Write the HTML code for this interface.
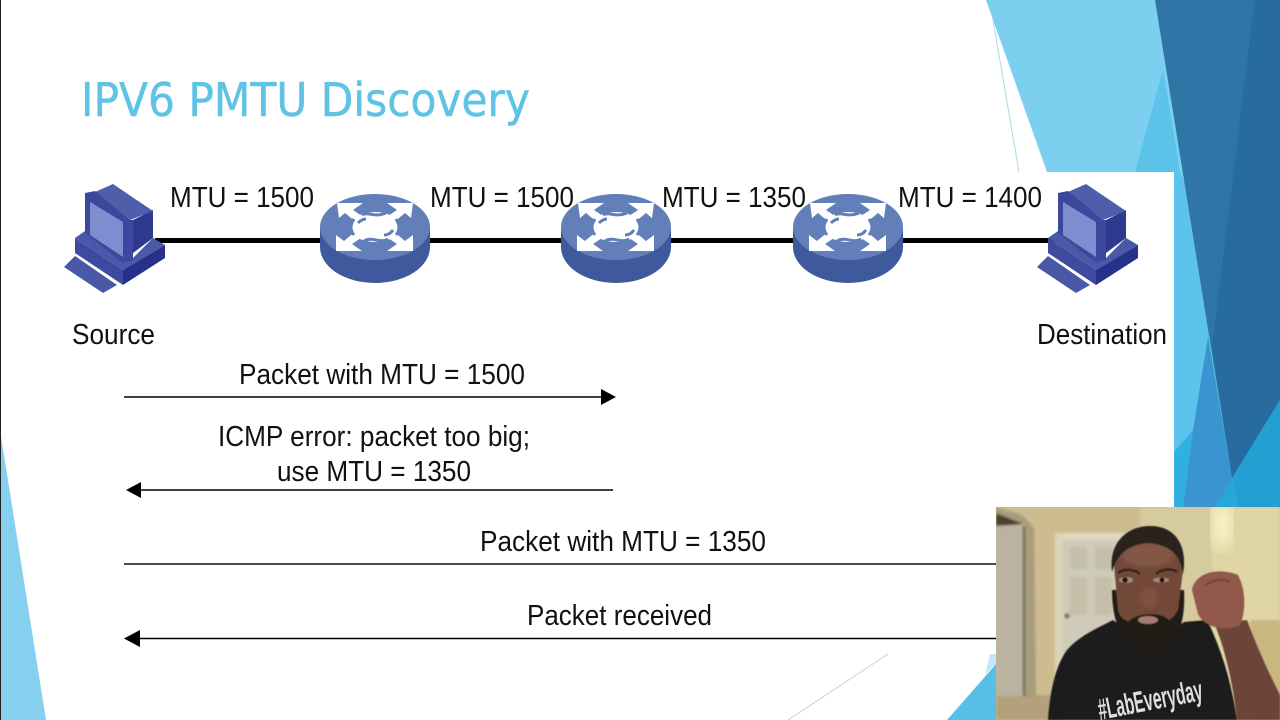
<!DOCTYPE html>
<html><head><meta charset="utf-8"><style>
html,body{margin:0;padding:0;background:#fff}
svg{display:block}
.l{font-family:"Liberation Sans",Arial,sans-serif;font-size:29px;fill:#111}
</style></head><body>
<svg width="1280" height="720" viewBox="0 0 1280 720" xmlns="http://www.w3.org/2000/svg">
<defs>
<filter id="b05"><feGaussianBlur stdDeviation="0.6"/></filter>
<filter id="b1"><feGaussianBlur stdDeviation="1.2"/></filter>
<filter id="b2"><feGaussianBlur stdDeviation="2"/></filter>
<filter id="b8"><feGaussianBlur stdDeviation="8"/></filter>
<g id="pc">
<polygon points="0,84 11,73 53,102 39,110" fill="#4a58a8"/>
<polygon points="11,55 21,48 69,75 89,55 101,62 59,87" fill="#4a58a8"/>
<polygon points="11,55 59,87 59,102 11,70" fill="#3d4a9f"/>
<polygon points="59,87 101,62 101,75 59,102" fill="#28318a"/>
<polygon points="69,37 89,27 89,55 69,70" fill="#2f3a8f"/>
<polygon points="31,9 49,1 89,28 66,37" fill="#4f5dab"/>
<polygon points="21,10 31,8 66,37 69,37 69,77 59,80 21,50" fill="#3c489d"/>
<polygon points="26,19 59,39 59,74 26,52" fill="#7f8cd0"/>
</g>
<g id="sw">
<ellipse cx="55" cy="53" rx="55" ry="36" fill="#3f5a9c"/>
<rect x="0" y="33" width="110" height="20" fill="#3f5a9c"/>
<ellipse cx="55" cy="33" rx="55" ry="33" fill="#627fb9"/>
<g fill="#fff">
<polygon points="17,9 43,9 33,16 45,24 37,29 25,19 19,24"/>
<polygon points="93,9 67,9 77,16 65,24 73,29 85,19 91,24"/>
<polygon points="16,57 42,57 32,50 44,42 36,37 24,47 16,41"/>
<polygon points="93,57 67,57 77,50 65,42 73,37 85,47 93,41"/>
<ellipse cx="55" cy="33" rx="25" ry="15"/>
</g>
<g fill="none" stroke="#627fb9" stroke-width="3">
<path d="M34,25 C30,31 30,36 34,41"/>
<path d="M76,25 C80,31 80,36 76,41"/>
<path d="M42,21 C48,17 54,24 66,19"/>
<path d="M44,47 C52,42 60,50 68,45"/>
<path d="M38,29 C41,26 44,25 46,25"/>
<path d="M64,41 C68,41 71,39 73,36"/>
</g>
</g>
</defs>

<rect width="1280" height="720" fill="#fff"/>

<!-- right decoration -->
<polygon points="986,0 1280,0 1280,507 1047,172" fill="#7ccfef"/>
<polygon points="1135,172 1163,70 1180,172 1280,400 1280,507 1174,507 1174,172" fill="#5cc3ea"/>
<polygon points="1155,0 1280,0 1280,400 1232,478" fill="#2f76a6"/>
<polygon points="1255,0 1280,0 1280,400 1232,478 1212,345" fill="#276b9f"/>
<polygon points="1208,337 1232,478 1237,507 1183,507 1193,430" fill="#3a94cf"/>
<polygon points="1174,452 1193,430 1183,507 1174,507" fill="#2fb1df"/>
<polygon points="1232,478 1280,400 1280,507 1238,507" fill="#239fd2"/>
<polygon points="1215,507 1232,478 1238,507" fill="#27a6da"/>
<rect x="960" y="172" width="214" height="338" fill="#fff"/>
<line x1="993" y1="20" x2="1019" y2="172" stroke="#a9d9ea" stroke-width="1"/>

<!-- left decoration -->
<polygon points="0,430 46,720 0,720" fill="#86d0ef"/>
<rect x="0" y="0" width="1" height="720" fill="#222"/>
<!-- bottom decoration -->
<line x1="788" y1="720" x2="888" y2="654" stroke="#bcd3da" stroke-width="1"/>
<polygon points="947,720 997,663 997,720" fill="#55bfe7"/>
<polygon points="990,654 997,654 997,663 985,675" fill="#c2e8f7"/>

<!-- title -->
<text x="81" y="116" font-family="'DejaVu Sans',sans-serif" font-size="46" fill="#5fc3e6" stroke="#5fc3e6" stroke-width=".5" textLength="449" lengthAdjust="spacingAndGlyphs">IPV6 PMTU Discovery</text>

<!-- network -->
<line x1="155" y1="240.500" x2="1055" y2="240.500" stroke="#000" stroke-width="5"/>
<use href="#pc" x="64" y="183"/>
<use href="#pc" x="1037" y="183"/>
<use href="#sw" x="320" y="194"/>
<use href="#sw" x="561" y="194"/>
<use href="#sw" x="793" y="194"/>

<text class="l" x="170" y="207" textLength="144" lengthAdjust="spacingAndGlyphs">MTU = 1500</text>
<text class="l" x="430" y="207" textLength="144" lengthAdjust="spacingAndGlyphs">MTU = 1500</text>
<text class="l" x="662" y="207" textLength="144" lengthAdjust="spacingAndGlyphs">MTU = 1350</text>
<text class="l" x="898" y="207" textLength="144" lengthAdjust="spacingAndGlyphs">MTU = 1400</text>
<text class="l" x="72" y="344" textLength="83" lengthAdjust="spacingAndGlyphs">Source</text>
<text class="l" x="1037" y="344" textLength="130" lengthAdjust="spacingAndGlyphs">Destination</text>

<!-- messages -->
<text class="l" x="239" y="384" textLength="286" lengthAdjust="spacingAndGlyphs">Packet with MTU = 1500</text>
<line x1="124" y1="397" x2="603" y2="397" stroke="#000" stroke-width="1.500"/>
<polygon points="616,397 601,389 601,405" fill="#000"/>

<text class="l" x="218" y="446" textLength="312" lengthAdjust="spacingAndGlyphs">ICMP error: packet too big;</text>
<text class="l" x="277" y="481" textLength="194" lengthAdjust="spacingAndGlyphs">use MTU = 1350</text>
<line x1="140" y1="490" x2="613" y2="490" stroke="#000" stroke-width="1.500"/>
<polygon points="126,490 141,482 141,498" fill="#000"/>

<text class="l" x="480" y="551" textLength="286" lengthAdjust="spacingAndGlyphs">Packet with MTU = 1350</text>
<line x1="124" y1="564" x2="997" y2="564" stroke="#111" stroke-width="1.500"/>

<text class="l" x="527" y="625" textLength="185" lengthAdjust="spacingAndGlyphs">Packet received</text>
<line x1="138" y1="638.500" x2="997" y2="638.500" stroke="#000" stroke-width="1.500"/>
<polygon points="124,638.500 140,630 140,647" fill="#000"/>

<!-- webcam -->
<svg x="996" y="507" width="284" height="213" viewBox="996 507 284 213">
<rect x="996" y="507" width="284" height="213" fill="#cdbc8f"/>
<g filter="url(#b1)">
<rect x="1140" y="507" width="75" height="213" fill="#d6cb9e"/>
<rect x="1212" y="507" width="68" height="213" fill="#e0d5a5"/>
<rect x="1250" y="620" width="30" height="100" fill="#c8b880"/>
<rect x="996" y="695" width="70" height="25" fill="#b5a07c"/>
<polygon points="996,507 1022,515 1034,528 1036,697 1025,697 1025,524 996,513" fill="#a89c7c"/>
<polygon points="996,513 1024,524 996,526" fill="#4a3f30"/>
<rect x="996" y="526" width="27" height="170" fill="#b9b3a0"/>
<rect x="1023" y="526" width="2" height="170" fill="#4d4a40"/>
<rect x="1055" y="533" width="85" height="7" fill="#dfd9bf"/>
<rect x="1055" y="533" width="8" height="170" fill="#dad4ba"/>
<polygon points="1063,540 1125,540 1125,680 1063,680" fill="#cfcbb8"/>
<rect x="1070" y="547" width="17" height="22" fill="#c4bfa9"/>
<rect x="1095" y="547" width="17" height="22" fill="#c4bfa9"/>
<rect x="1070" y="577" width="17" height="38" fill="#c4bfa9"/>
<rect x="1095" y="577" width="17" height="38" fill="#c4bfa9"/>
<circle cx="1067" cy="616" r="2.500" fill="#5a5040"/>
</g>
<ellipse cx="1222" cy="525" rx="10" ry="24" fill="#fdf4cc" filter="url(#b8)"/>
<g filter="url(#b05)">
<!-- arm -->
<path d="M1237,720 C1234,690 1226,650 1214,623 L1247,620 C1258,650 1270,675 1280,695 L1280,720Z" fill="#6d4439"/>
<!-- shirt -->
<path d="M1048,720 C1050,690 1056,665 1067,650 C1080,635 1100,627 1113,620 L1150,650 L1184,622 L1207,620 C1222,650 1232,685 1237,720Z" fill="#1e1b1c"/>
<!-- neck/beard -->
<path d="M1112,590 C1112,625 1125,655 1150,655 C1175,655 1186,625 1184,590Z" fill="#231c19"/>
<!-- face -->
<path d="M1114,565 C1114,535 1135,530 1150,530 C1170,530 1184,540 1183,570 L1178,610 C1170,625 1160,622 1148,622 C1135,622 1122,625 1118,610Z" fill="#724838"/>
<ellipse cx="1148" cy="555" rx="26" ry="12" fill="#835645" filter="url(#b2)"/>
<ellipse cx="1149" cy="598" rx="9" ry="11" fill="#7f5141" filter="url(#b2)"/>
<!-- hair -->
<path d="M1112,572 C1108,540 1130,526 1150,526 C1175,526 1188,545 1183,574 C1180,555 1172,546 1150,543 C1130,544 1118,552 1112,572Z" fill="#2a211d"/>
<!-- brows and eyes -->
<path d="M1118,573 C1124,568 1134,569 1140,574 M1156,574 C1162,569 1172,568 1177,572" stroke="#33231c" stroke-width="2.500" fill="none"/>
<ellipse cx="1126" cy="580" rx="7" ry="3" fill="#a58a78"/>
<ellipse cx="1161" cy="580" rx="8" ry="2.500" fill="#a58a78"/>
<circle cx="1125" cy="580" r="2.800" fill="#1a1210"/>
<circle cx="1162" cy="580" r="2.500" fill="#1a1210"/>
<!-- mustache/mouth -->
<path d="M1126,625 C1132,611 1166,611 1170,622 C1165,642 1135,645 1126,625Z" fill="#241c19"/>
<ellipse cx="1148" cy="620" rx="10" ry="4" fill="#a57c6d"/>
<!-- fist -->
<path d="M1192,590 C1194,575 1215,566 1238,575 C1246,590 1246,612 1240,625 C1226,632 1205,628 1198,614Z" fill="#92594b"/>
<path d="M1206,585 C1212,580 1222,578 1230,582" stroke="#6d4237" stroke-width="2" fill="none"/>
</g>
<text x="0" y="0" transform="translate(1100 720) rotate(-11)" font-family="'Liberation Sans',sans-serif" font-weight="bold" font-size="30" fill="#dedede" textLength="106" lengthAdjust="spacingAndGlyphs">#LabEveryday</text>
</svg>
</svg>
</body></html>
